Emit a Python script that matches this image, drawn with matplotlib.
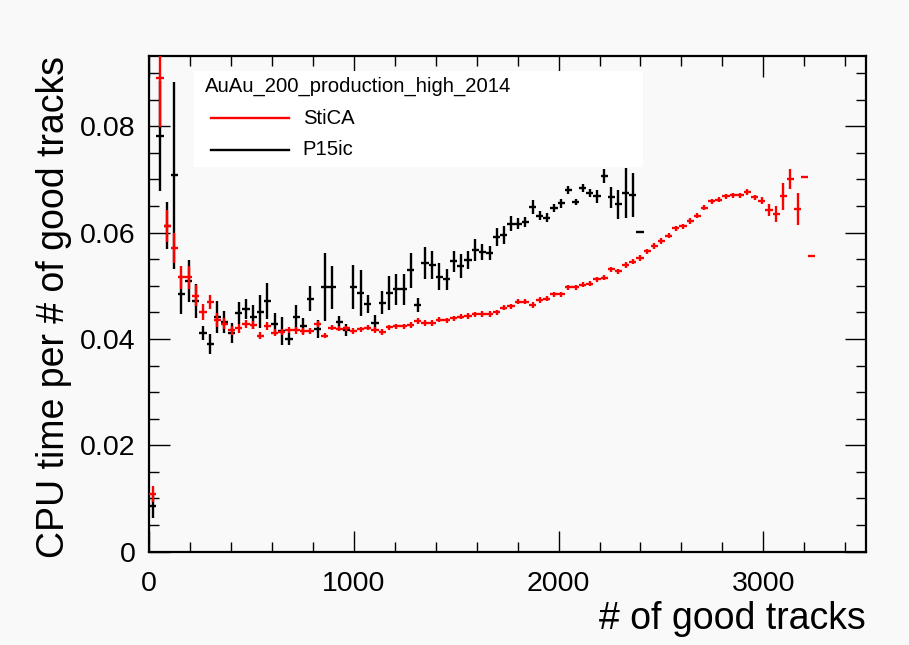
import numpy as np
import matplotlib
matplotlib.use('Agg')
from matplotlib import pyplot as plt
from matplotlib.patches import Rectangle

plt.rcParams['font.family'] = ['Liberation Sans', 'DejaVu Sans']

# histogram binning: 100 bins over 0-3500 tracks
bin_width = 35.0

# StiCA (red)
stica_vals = [0.0108, 0.0890, 0.0613, 0.0571, 0.0516, 0.0516, 0.0481, 0.0450, 0.0470, 0.0436,
              0.0429, 0.0416, 0.0420, 0.0428, 0.0426, 0.0406, 0.0424, 0.0412, 0.0413, 0.0417,
              0.0416, 0.0414, 0.0415, 0.0428, 0.0406, 0.0421, 0.0419, 0.0420, 0.0415, 0.0418,
              0.0421, 0.0417, 0.0413, 0.0422, 0.0424, 0.0424, 0.0426, 0.0434, 0.0430, 0.0430,
              0.0436, 0.0435, 0.0439, 0.0442, 0.0443, 0.0446, 0.0447, 0.0447, 0.0450, 0.0459,
              0.0461, 0.0470, 0.0470, 0.0464, 0.0473, 0.0476, 0.0484, 0.0484, 0.0497, 0.0497,
              0.0502, 0.0504, 0.0512, 0.0515, 0.0531, 0.0527, 0.0539, 0.0545, 0.0552, 0.0565,
              0.0575, 0.0584, 0.0594, 0.0608, 0.0612, 0.0622, 0.0632, 0.0647, 0.0659, 0.0662,
              0.0668, 0.0670, 0.0670, 0.0676, 0.0666, 0.0660, 0.0642, 0.0635, 0.0668, 0.0701,
              0.0645, 0.0704, 0.0556]
stica_errs = [0.0015, 0.0092, 0.0030, 0.0029, 0.0022, 0.0022, 0.0020, 0.0015, 0.0013, 0.0013,
              0.0010, 0.0009, 0.0008, 0.0008, 0.0008, 0.0007, 0.0007, 0.0006, 0.0006, 0.0006,
              0.0006, 0.0006, 0.0006, 0.0006, 0.0005, 0.0005, 0.0005, 0.0005, 0.0005, 0.0005,
              0.0005, 0.0005, 0.0005, 0.0005, 0.0005, 0.0005, 0.0005, 0.0005, 0.0005, 0.0005,
              0.0005, 0.0005, 0.0005, 0.0005, 0.0005, 0.0005, 0.0005, 0.0005, 0.0005, 0.0005,
              0.0005, 0.0005, 0.0005, 0.0005, 0.0005, 0.0005, 0.0005, 0.0005, 0.0005, 0.0005,
              0.0005, 0.0005, 0.0005, 0.0005, 0.0005, 0.0005, 0.0005, 0.0005, 0.0005, 0.0005,
              0.0005, 0.0005, 0.0005, 0.0005, 0.0005, 0.0005, 0.0005, 0.0005, 0.0005, 0.0005,
              0.0005, 0.0005, 0.0005, 0.0005, 0.0005, 0.0006, 0.0011, 0.0015, 0.0026, 0.0019,
              0.0030, 0.0000, 0.0000]

# P15ic (black)
p15ic_vals = [0.0086, 0.0782, 0.0613, 0.0708, 0.0484, 0.0509, 0.0471, 0.0411, 0.0391, 0.0441,
              0.0432, 0.0411, 0.0449, 0.0456, 0.0441, 0.0451, 0.0472, 0.0429, 0.0415, 0.0400,
              0.0441, 0.0424, 0.0476, 0.0418, 0.0497, 0.0497, 0.0432, 0.0417, 0.0498, 0.0486,
              0.0465, 0.0430, 0.0468, 0.0486, 0.0493, 0.0493, 0.0529, 0.0464, 0.0542, 0.0539,
              0.0517, 0.0512, 0.0546, 0.0537, 0.0548, 0.0567, 0.0563, 0.0562, 0.0592, 0.0595,
              0.0617, 0.0617, 0.0620, 0.0648, 0.0632, 0.0628, 0.0646, 0.0655, 0.0680, 0.0657,
              0.0684, 0.0674, 0.0668, 0.0707, 0.0666, 0.0653, 0.0675, 0.0671, 0.0601]
p15ic_errs = [0.0023, 0.0103, 0.0044, 0.0176, 0.0037, 0.0040, 0.0032, 0.0013, 0.0019, 0.0030,
              0.0020, 0.0019, 0.0020, 0.0019, 0.0022, 0.0031, 0.0034, 0.0019, 0.0026, 0.0011,
              0.0022, 0.0015, 0.0024, 0.0017, 0.0064, 0.0041, 0.0011, 0.0011, 0.0041, 0.0043,
              0.0017, 0.0015, 0.0022, 0.0032, 0.0030, 0.0030, 0.0033, 0.0013, 0.0030, 0.0026,
              0.0025, 0.0020, 0.0020, 0.0022, 0.0017, 0.0020, 0.0015, 0.0013, 0.0017, 0.0017,
              0.0015, 0.0011, 0.0009, 0.0013, 0.0009, 0.0008, 0.0008, 0.0008, 0.0008, 0.0006,
              0.0008, 0.0008, 0.0012, 0.0013, 0.0019, 0.0027, 0.0047, 0.0041, 0.0000]

legend_header = 'AuAu_200_production_high_2014'
stica_label = 'StiCA'
p15ic_label = 'P15ic'

bg = '#f9f9f9'
fig = plt.figure(figsize=(9.09, 6.45), dpi=100, facecolor=bg)
ax = fig.add_axes([0.1642, 0.1447, 0.7881, 0.7685], facecolor=bg)

stica_x = (np.arange(len(stica_vals)) + 0.5) * bin_width
p15ic_x = (np.arange(len(p15ic_vals)) + 0.5) * bin_width

lw = 1.7
ax.errorbar(p15ic_x, p15ic_vals, xerr=bin_width / 2, yerr=p15ic_errs, fmt='none',
            ecolor='black', elinewidth=lw, capsize=0, zorder=3)
ax.errorbar(stica_x, stica_vals, xerr=bin_width / 2, yerr=stica_errs, fmt='none',
            ecolor='red', elinewidth=lw, capsize=0, zorder=4)

ax.set_xlim(0, 3500)
ax.set_ylim(0, 0.0932)
ax.set_xticks([0, 1000, 2000, 3000])
ax.set_xticks(np.arange(0, 3501, 200), minor=True)
ax.set_yticks([0, 0.02, 0.04, 0.06, 0.08])
ax.set_yticklabels(['0', '0.02', '0.04', '0.06', '0.08'])
ax.set_yticks(np.arange(0, 0.0931, 0.005), minor=True)

ax.tick_params(which='both', direction='in', top=True, right=True, labelsize=20.5, width=1.0)
ax.tick_params(which='major', length=15)
ax.tick_params(which='minor', length=7.5)
ax.tick_params(axis='y', pad=10)
ax.tick_params(axis='x', pad=14)
for s in ax.spines.values():
    s.set_linewidth(1.6)

ax.set_xlabel('# of good tracks', fontsize=27, ha='right', va='center')
ax.xaxis.set_label_coords(1.0, -0.135)
ax.set_ylabel('CPU time per # of good tracks', fontsize=27, ha='right', va='center')
ax.yaxis.set_label_coords(-0.1325, 1.0)

# legend box, ROOT style
ax.add_patch(Rectangle((0.0624, 0.7755), 0.6266, 0.1949, transform=ax.transAxes,
                       facecolor='white', edgecolor='none', zorder=5))
ax.text(0.0777, 0.9395, legend_header, transform=ax.transAxes, fontsize=14.6,
        ha='left', va='center', zorder=6)
ax.plot([0.0857, 0.1954], [0.8743, 0.8743], transform=ax.transAxes, color='red', lw=lw, zorder=6)
ax.plot([0.0857, 0.1954], [0.8104, 0.8104], transform=ax.transAxes, color='black', lw=lw, zorder=6)
ax.text(0.214, 0.8743, stica_label, transform=ax.transAxes, fontsize=14.6, ha='left', va='center', zorder=6)
ax.text(0.214, 0.8104, p15ic_label, transform=ax.transAxes, fontsize=14.6, ha='left', va='center', zorder=6)

plt.savefig('out.png', dpi=100, facecolor=bg)
